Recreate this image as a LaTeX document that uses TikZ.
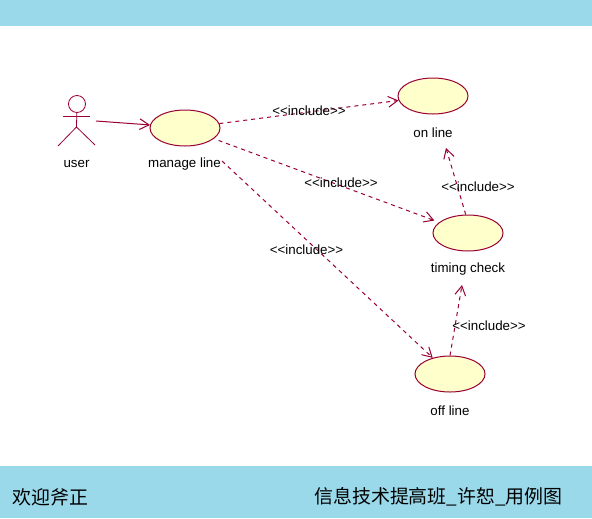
\documentclass[tikz,border=0pt]{standalone}
\usepackage{fontspec}
\setmainfont{Liberation Sans}
\newfontfamily\cjk{Noto Sans CJK SC}
\usetikzlibrary{shapes.geometric,arrows.meta}
\definecolor{umlline}{HTML}{990033}
\definecolor{umlfill}{HTML}{FFFFCC}
\definecolor{band}{HTML}{99D9EA}
\tikzset{
  usecase/.style={ellipse,draw=umlline,fill=umlfill,line width=0.75pt,minimum width=52.5pt,minimum height=27pt,inner sep=0pt},
  label/.style={font=\fontsize{10}{12}\selectfont,text=black,inner sep=0pt},
  stereo/.style={font=\fontsize{10}{12}\selectfont,text=black,inner sep=0pt},
  includearrow/.style={draw=umlline,line width=0.75pt,dash pattern=on 3pt off 3pt,-{Straight Barb[length=7pt,width=8pt,line width=0.75pt]}},
  assoc/.style={draw=umlline,line width=0.75pt,-{Straight Barb[length=7pt,width=8pt,line width=0.75pt]}},
  limb/.style={draw=umlline,line width=0.6pt},
  footer/.style={font=\cjk\fontsize{14.2}{18}\selectfont,text=black,inner sep=0pt,anchor=west},
}
\begin{document}
\begin{tikzpicture}[x=0.75pt,y=-0.75pt]
\useasboundingbox (0,0) rectangle (592,518);
\fill[white] (0,0) rectangle (592,518);
\fill[band] (0,0) rectangle (592,26);
\fill[band] (0,466) rectangle (592,518);
% actor
\node[circle,draw=umlline,line width=0.6pt,minimum size=12.75pt,inner sep=0pt] (head) at (77,104) {};
\coordinate (armL) at (63,116);
\coordinate (armR) at (90,116);
\coordinate (hip) at (76.5,127);
\coordinate (legL) at (58,146);
\coordinate (legR) at (95,145);
\draw[limb] (head) -- (hip);
\draw[limb] (armL) -- (armR);
\draw[limb] (legL) -- (hip) -- (legR);
\node[label] (userlabel) at (76.5,163.5) {user};
% use cases
\node[usecase] (manage) at (185,128) {};
\node[usecase] (online) at (433,96) {};
\node[usecase] (timing) at (468,233) {};
\node[usecase] (offline) at (450,374) {};
\node[label] (managelabel) at (184.5,164.5) {manage line};
\node[label] (onlabel) at (433,132.5) {on line};
\node[label] (timinglabel) at (468,269.5) {timing check};
\node[label] (offlabel) at (450,410.5) {off line};
% connectors
\coordinate (userend) at (96,121);
\coordinate (mstart) at (222,161);
\draw[assoc] (userend) -- (manage.175);
\draw[includearrow] (manage) -- (online);
\draw[includearrow,shorten <=3.75pt,shorten >=3.75pt] (manage) -- (timing);
\draw[includearrow] (mstart) -- (offline);
\coordinate (tipon) at (446,148);
\coordinate (tipti) at (462,285);
\draw[includearrow] (timing.97) -- (tipon);
\draw[includearrow] (offline.90) -- (tipti);
% stereotypes
\node[stereo] (s1) at (309,110.5) {<{}<include>{}>};
\node[stereo] (s2) at (341,182.5) {<{}<include>{}>};
\node[stereo] (s3) at (306.5,249.5) {<{}<include>{}>};
\node[stereo] (s4) at (478,186.5) {<{}<include>{}>};
\node[stereo] (s5) at (489,325.5) {<{}<include>{}>};
% footer
\node[footer] (fl) at (12,497) {欢迎斧正};
\node[footer] (fr) at (314,496.5) {信息技术提高班\_许恕\_用例图};
\end{tikzpicture}
\end{document}
